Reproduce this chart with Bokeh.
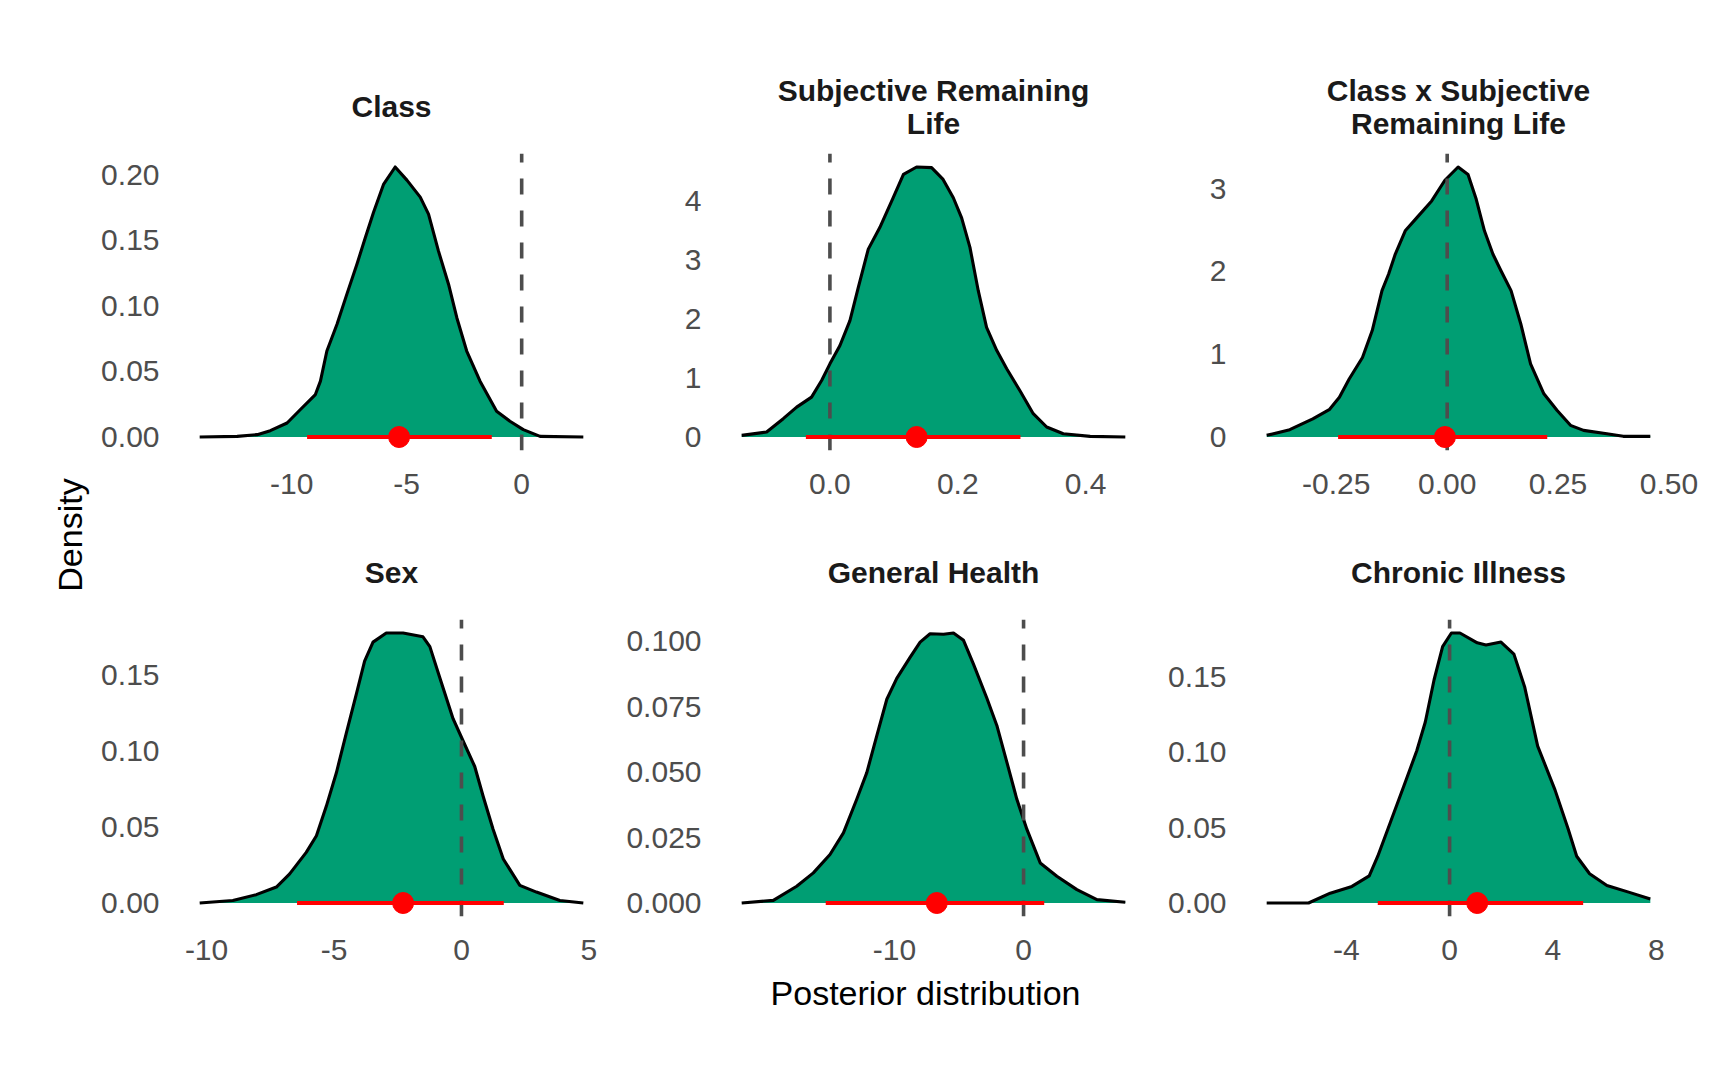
import math
from bokeh.plotting import figure
from bokeh.layouts import row, column
from bokeh.models import Range1d, FixedTicker, NumeralTickFormatter, Title
from bokeh.embed import file_html
from bokeh.resources import INLINE
from bokeh.core.properties import value

# ---------------- data ----------------
titles = [["Class"], ["Subjective Remaining", "Life"], ["Class x Subjective", "Remaining Life"],
          ["Sex"], ["General Health"], ["Chronic Illness"]]

class_x = [-14.0, -12.37, -11.5, -10.93, -10.2, -9.62, -8.97, -8.75, -8.47, -8.03, -7.6, -7.16, -6.8,
           -6.44, -6.0, -5.5, -4.99, -4.41, -4.05, -3.62, -3.18, -2.82, -2.39, -1.81, -1.09, -0.51,
           0.07, 0.80, 2.68]
class_d = [0, 0.0005, 0.0018, 0.0048, 0.0107, 0.021, 0.0324, 0.0426, 0.0656, 0.086, 0.109, 0.132, 0.152,
           0.1715, 0.193, 0.206, 0.196, 0.183, 0.170, 0.142, 0.1166, 0.091, 0.0656, 0.0426, 0.0197, 0.012,
           0.0056, 0.0005, 0]

srl_x = [-0.138, -0.099, -0.073, -0.052, -0.0287, -0.013, 0.0, 0.0157, 0.0313, 0.0443, 0.06, 0.078,
         0.099, 0.115, 0.1356, 0.159, 0.177, 0.193, 0.206, 0.219, 0.232, 0.245, 0.261, 0.2765, 0.297,
         0.318, 0.339, 0.365, 0.407, 0.462]
srl_d = [0.028, 0.084, 0.31, 0.506, 0.675, 0.957, 1.238, 1.548, 1.97, 2.53, 3.18, 3.545, 4.05, 4.445,
         4.57, 4.56, 4.36, 4.05, 3.71, 3.21, 2.476, 1.857, 1.463, 1.154, 0.788, 0.394, 0.169, 0.056,
         0.011, 0.0]

int_x = [-0.407, -0.355, -0.303, -0.266, -0.243, -0.221, -0.191, -0.169, -0.147, -0.132, -0.117, -0.0946,
         -0.0648, -0.035, -0.0052, 0.0246, 0.047, 0.0655, 0.084, 0.103, 0.121, 0.144, 0.166, 0.188, 0.218,
         0.248, 0.278, 0.3075, 0.36, 0.397, 0.458]
int_d = [0.02, 0.088, 0.22, 0.33, 0.48, 0.70, 0.96, 1.285, 1.767, 1.968, 2.209, 2.49, 2.67, 2.85, 3.10,
         3.26, 3.17, 2.87, 2.49, 2.21, 2.01, 1.767, 1.365, 0.884, 0.522, 0.321, 0.141, 0.08, 0.04, 0.008, 0.008]

sex_x = [-10.27, -8.97, -8.05, -7.26, -6.74, -6.09, -5.69, -5.30, -4.91, -4.52, -4.12, -3.80, -3.47,
         -2.95, -2.29, -1.51, -1.24, -0.85, -0.33, 0.065, 0.52, 0.85, 1.24, 1.64, 2.29, 2.94, 3.86, 4.78]
sex_d = [0, 0.0017, 0.0055, 0.0105, 0.0192, 0.0334, 0.0443, 0.0639, 0.0857, 0.1119, 0.138, 0.1595,
         0.172, 0.178, 0.178, 0.1755, 0.169, 0.1485, 0.1215, 0.1068, 0.090, 0.0704, 0.0486, 0.029,
         0.0116, 0.0072, 0.0017, 0]

gh_x = [-21.83, -19.38, -17.57, -16.28, -14.99, -13.95, -12.92, -12.14, -11.37, -10.59, -9.82, -8.79,
        -8.01, -7.24, -6.20, -5.43, -4.65, -3.88, -2.84, -2.07, -1.29, -0.52, 0.26, 1.29, 2.58, 4.13,
        5.68, 7.88]
gh_d = [0, 0.001, 0.0064, 0.0115, 0.0185, 0.0268, 0.0396, 0.0498, 0.0638, 0.0778, 0.0858, 0.0938,
        0.0996, 0.1028, 0.1026, 0.1031, 0.1003, 0.0912, 0.0782, 0.0678, 0.0537, 0.0396, 0.0281, 0.0153,
        0.0102, 0.0051, 0.0013, 0.0003]

chr_x = [-7.08, -5.46, -4.62, -3.78, -3.11, -2.78, -2.28, -1.77, -1.27, -0.94, -0.60, -0.27, 0.07, 0.40,
         1.07, 1.41, 1.99, 2.49, 2.91, 3.41, 4.08, 4.59, 4.92, 5.42, 6.09, 6.93, 7.77]
chr_d = [0, 0, 0.0065, 0.011, 0.018, 0.031, 0.054, 0.0776, 0.1009, 0.120, 0.148, 0.170, 0.179, 0.179,
         0.1725, 0.171, 0.173, 0.165, 0.143, 0.1040, 0.075, 0.049, 0.031, 0.0194, 0.0116, 0.0072, 0.0026]

ci_low = [-9.33, -0.0376, -0.246, -6.45, -15.32, -2.78]
ci_high = [-1.30, 0.298, 0.2256, 1.66, 1.60, 5.17]
medians = [-5.33, 0.1356, -0.005, -2.29, -6.72, 1.07]

x_ticks = [[-10, -5, 0], [0, 0.2, 0.4], [-0.25, 0, 0.25, 0.5], [-10, -5, 0, 5], [-10, 0], [-4, 0, 4, 8]]
x_labels = [["-10", "-5", "0"], ["0.0", "0.2", "0.4"], ["-0.25", "0.00", "0.25", "0.50"],
            ["-10", "-5", "0", "5"], ["-10", "0"], ["-4", "0", "4", "8"]]
x_fmt = ["0", "0.0", "0.00", "0", "0", "0"]
y_ticks = [[0, 0.05, 0.10, 0.15, 0.20], [0, 1, 2, 3, 4], [0, 1, 2, 3], [0, 0.05, 0.10, 0.15],
           [0, 0.025, 0.05, 0.075, 0.10], [0, 0.05, 0.10, 0.15]]
y_labels = [["0.00", "0.05", "0.10", "0.15", "0.20"], ["0", "1", "2", "3", "4"], ["0", "1", "2", "3"],
            ["0.00", "0.05", "0.10", "0.15"], ["0.000", "0.025", "0.050", "0.075", "0.100"],
            ["0.00", "0.05", "0.10", "0.15"]]
y_fmt = ["0.00", "0", "0", "0.00", "0.000", "0.00"]

curves = [(class_x, class_d), (srl_x, srl_d), (int_x, int_d), (sex_x, sex_d), (gh_x, gh_d), (chr_x, chr_d)]

FONT = "Liberation Sans"
FILL = "#009E73"

# layout (pixels)
FRAME_W, FRAME_H = 422, 297
col_w = [530, 536, 550]
col_bl = [88, 100, 89]
row_h = [523, 447]
row_bt = [153, 96]
SINGLE_STANDOFF = 61
LOWER_STANDOFF = 28
UPPER_STANDOFF = -32


def style_title(t):
    t.align = "center"
    t.text_font = FONT
    t.text_font_size = "30px"
    t.text_font_style = "bold"
    t.text_color = "#1A1A1A"


def panel(i):
    r, c = divmod(i, 3)
    x, d = curves[i]
    xmin, xmax = min(x), max(x)
    span = xmax - xmin
    dmax = max(d)
    lines = titles[i]
    p = figure(width=col_w[c], height=row_h[r],
               min_border_left=col_bl[c], min_border_right=col_w[c] - col_bl[c] - FRAME_W,
               min_border_top=row_bt[r], min_border_bottom=row_h[r] - row_bt[r] - FRAME_H,
               x_range=Range1d(xmin - 0.05 * span, xmax + 0.05 * span),
               y_range=Range1d(-0.05 * dmax, 1.05 * dmax),
               title=lines[0], output_backend="svg", toolbar_location=None)
    style_title(p.title)
    if len(lines) == 1:
        p.title.standoff = SINGLE_STANDOFF
    else:
        p.title.standoff = UPPER_STANDOFF
        t2 = Title(text=lines[1])
        style_title(t2)
        t2.standoff = LOWER_STANDOFF
        p.add_layout(t2, "above")
    p.outline_line_color = None
    p.grid.visible = False
    p.background_fill_color = "white"
    p.border_fill_color = "white"

    p.varea(x=x, y1=[0] * len(x), y2=d, fill_color=FILL, fill_alpha=1.0)
    p.line(x, d, line_color="black", line_width=3.1, line_join="round")
    p.segment(x0=[0], y0=[-0.05 * dmax], x1=[0], y1=[1.05 * dmax],
              line_color="#4D4D4D", line_width=3.6, line_dash="16 16")
    p.segment(x0=[ci_low[i]], y0=[0], x1=[ci_high[i]], y1=[0], line_color="#FF0000", line_width=4)
    p.scatter([medians[i]], [0], size=21, fill_color="#FF0000", line_color="#FF0000", line_width=1)

    for ax, ticks, labels, fmt, standoff in ((p.xaxis[0], x_ticks[i], x_labels[i], x_fmt[i], 23),
                                              (p.yaxis[0], y_ticks[i], y_labels[i], y_fmt[i], 21)):
        ax.ticker = FixedTicker(ticks=ticks)
        ax.formatter = NumeralTickFormatter(format=fmt)
        ax.major_label_overrides = {t: s for t, s in zip(ticks, labels)}
        ax.axis_line_color = None
        ax.major_tick_line_color = None
        ax.minor_tick_line_color = None
        ax.major_tick_out = 0
        ax.major_tick_in = 0
        ax.minor_tick_out = 0
        ax.major_label_standoff = standoff
        ax.major_label_text_font = FONT
        ax.major_label_text_font_size = "30px"
        ax.major_label_text_color = "#4D4D4D"
    return p


panels = [panel(i) for i in range(6)]

TOTAL_H = 1018
LEFT_W = 92
left = figure(width=LEFT_W, height=TOTAL_H, x_range=Range1d(0, LEFT_W), y_range=Range1d(0, TOTAL_H),
              x_axis_location=None, y_axis_location=None, min_border=0,
              output_backend="svg", toolbar_location=None)
left.grid.visible = False
left.outline_line_color = None
left.text(x=[69.5], y=[TOTAL_H - 534.5], text=["Density"], angle=math.pi / 2, text_align="center",
          text_baseline="middle", text_font=value(FONT), text_font_size="34px", text_color="black")

XL_W, XL_H = sum(col_w), TOTAL_H - sum(row_h)
xlab = figure(width=XL_W, height=XL_H, x_range=Range1d(0, XL_W), y_range=Range1d(0, XL_H),
              x_axis_location=None, y_axis_location=None, min_border=0,
              output_backend="svg", toolbar_location=None)
xlab.grid.visible = False
xlab.outline_line_color = None
xlab.text(x=[833], y=[XL_H - 22], text=["Posterior distribution"], text_align="center",
          text_baseline="middle", text_font=value(FONT), text_font_size="34px", text_color="black")

layout = row(left, column(row(*panels[:3]), row(*panels[3:]), xlab))

open("out.html", "w").write(file_html(layout, INLINE))
